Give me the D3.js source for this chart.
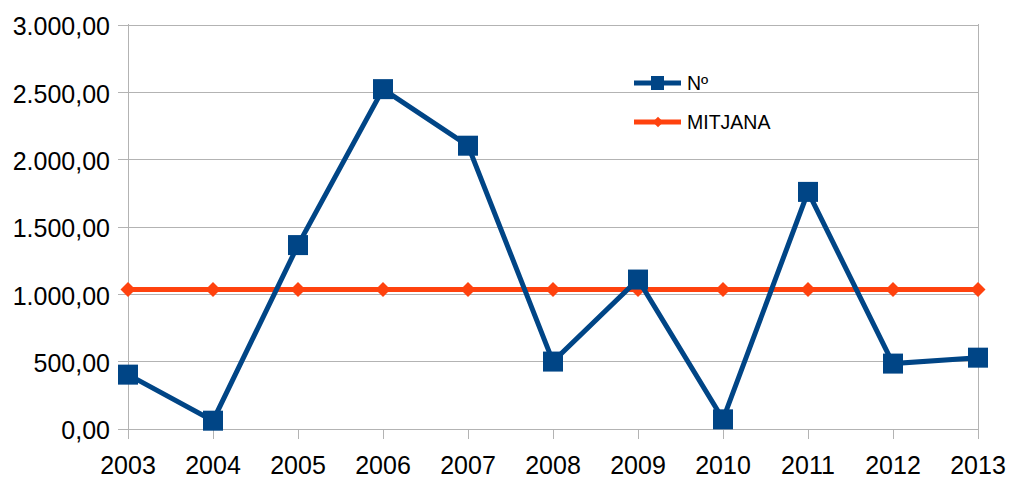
<!DOCTYPE html>
<html><head><meta charset="utf-8">
<script src="https://cdn.jsdelivr.net/npm/d3@7"></script>
<style>body{margin:0;background:#fff}svg{display:block}text{font-family:"Liberation Sans",Arial,sans-serif;fill:#000}</style>
</head><body><svg id="c" width="1010" height="478"></svg>
<script>
const years = ["2003","2004","2005","2006","2007","2008","2009","2010","2011","2012","2013"];
const numValues = [400, 58, 1362, 2520, 2100, 497, 1106, 68, 1757, 482, 526];
const mitjanaValues = [1032,1032,1032,1032,1032,1032,1032,1032,1032,1032,1032];
const yTicks = [0,500,1000,1500,2000,2500,3000];
const seriesNames = ["Nº","MITJANA"];

const svg = d3.select("#c");
const x = d3.scalePoint().domain(years).range([128, 978]);
const y = d3.scaleLinear().domain([0, 3000]).range([428.5, 24.5]);
const fmt = v => d3.format(",.2f")(v).replace(/,/g,"#").replace(".",",").replace(/#/g,".");
const grid = "#b3b3b3";

svg.append("g").selectAll("line").data(yTicks).join("line")
  .attr("x1",118).attr("x2",978).attr("y1",d=>Math.round(y(d))+0.5).attr("y2",d=>Math.round(y(d))+0.5)
  .attr("stroke",grid).attr("stroke-width",1);
svg.append("g").selectAll("text").data(yTicks).join("text")
  .attr("x",110).attr("y",d=>y(d)+2).attr("dy","0.35em").attr("text-anchor","end")
  .style("font-size","25px").text(fmt);
svg.append("line").attr("x1",128.5).attr("x2",128.5).attr("y1",24).attr("y2",439).attr("stroke",grid);
svg.append("line").attr("x1",978.5).attr("x2",978.5).attr("y1",24).attr("y2",439).attr("stroke",grid);
svg.append("g").selectAll("line").data(years).join("line")
  .attr("x1",d=>Math.round(x(d))+0.5).attr("x2",d=>Math.round(x(d))+0.5).attr("y1",429).attr("y2",439)
  .attr("stroke",grid);
svg.append("g").selectAll("text").data(years).join("text")
  .attr("x",d=>x(d)).attr("y",474).attr("text-anchor","middle").style("font-size","25px").text(d=>d);

const blue = "#004586", orange = "#ff420e";
const line = d3.line().x((d,i)=>x(years[i])).y(d=>y(d));
svg.append("path").datum(mitjanaValues).attr("d",line).attr("fill","none").attr("stroke",orange).attr("stroke-width",5);
svg.append("g").selectAll("path").data(mitjanaValues).join("path")
  .attr("d",d3.symbol().type(d3.symbolSquare).size(112))
  .attr("transform",(d,i)=>`translate(${x(years[i])},${y(d)}) rotate(45)`).attr("fill",orange);
svg.append("path").datum(numValues).attr("d",line).attr("fill","none").attr("stroke",blue).attr("stroke-width",5);
svg.append("g").selectAll("rect").data(numValues).join("rect")
  .attr("x",(d,i)=>x(years[i])-10).attr("y",d=>y(d)-10).attr("width",20).attr("height",20).attr("fill",blue);

const lg = svg.append("g");
lg.append("line").attr("x1",634).attr("x2",681).attr("y1",83).attr("y2",83).attr("stroke",blue).attr("stroke-width",5);
lg.append("rect").attr("x",651).attr("y",76).attr("width",13).attr("height",14).attr("fill",blue);
lg.append("text").attr("x",687).attr("y",83).attr("dy","0.35em").style("font-size","19.5px").text(seriesNames[0]);
lg.append("line").attr("x1",634).attr("x2",681).attr("y1",122).attr("y2",122).attr("stroke",orange).attr("stroke-width",5);
lg.append("path").attr("d",d3.symbol().type(d3.symbolSquare).size(55)).attr("transform","translate(658,122) rotate(45)").attr("fill",orange);
lg.append("text").attr("x",687).attr("y",122).attr("dy","0.35em").style("font-size","19.5px").text(seriesNames[1]);
</script></body></html>
